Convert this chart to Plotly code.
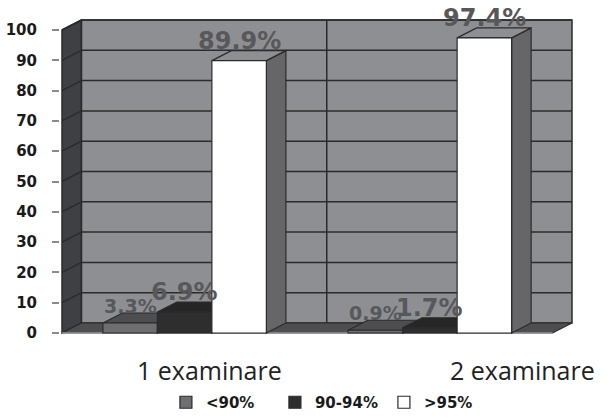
import plotly.graph_objects as go

# ---- data -------------------------------------------------------------
categories = ["1 examinare", "2 examinare"]
series_names = ["<90%", "90-94%", ">95%"]
below_90 = [3.3, 0.9]
between_90_94 = [6.9, 1.7]
above_95 = [89.9, 97.4]
y_tick_values = [0, 10, 20, 30, 40, 50, 60, 70, 80, 90, 100]

# ---- styling ----------------------------------------------------------
# (front face, top face, side face, value-label size)
bar_styles = [
    ("#6e6e70", "#4e4e50", "#555557", 19),
    ("#2e2e2e", "#262626", "#222222", 24),
    ("#ffffff", "#8e8f92", "#666668", 24),
]
EDGE = "#2b2b2b"
BACK_WALL = "#8e8f93"
SIDE_WALL = "#3f4043"
FLOOR = "#4e4e50"
LABEL_GREY = "#58585a"

W, H = 610, 419
front_left_px, back_right_px = 62, 572      # horizontal extent of the box
zero_px, hundred_px = 333, 30               # front plane: 0 and 100
depth_px_x, depth_px_y = 19.5, 10           # oblique depth offset in pixels

n_cat = len(categories)
x_lo, x_hi = -0.5, n_cat - 0.5
sx = (back_right_px - front_left_px - depth_px_x) / (x_hi - x_lo)
sy = (zero_px - hundred_px) / 100.0
DX = depth_px_x / sx
DY = depth_px_y / sy

PAD = 2  # px of slack so edge strokes are not clipped
y_top = max(y_tick_values)
x_range = [x_lo - PAD / sx, x_hi + DX + PAD / sx]
y_range = [-PAD / sy, y_top + DY + PAD / sy]
m_l = front_left_px - PAD
m_r = W - (back_right_px + PAD)
m_b = H - (zero_px + PAD)
m_t = H - m_b - (y_range[1] - y_range[0]) * sy

GROUP = 2 / 3
BW = GROUP / len(series_names)


def poly(points, fill, line=EDGE, width=1.2):
    path = "M " + " L ".join(f"{x},{y}" for x, y in points) + " Z"
    return dict(type="path", path=path, xref="x", yref="y",
                fillcolor=fill, line=dict(color=line, width=width),
                layer="below")


def seg(x0, y0, x1, y1, color=EDGE, width=1.5):
    return dict(type="line", x0=x0, y0=y0, x1=x1, y1=y1, xref="x", yref="y",
                line=dict(color=color, width=width), layer="below")


shapes = []
# side wall, back wall, floor
shapes.append(poly([(x_lo, 0), (x_lo, y_top), (x_lo + DX, y_top + DY),
                    (x_lo + DX, DY)], SIDE_WALL, width=1.5))
shapes.append(poly([(x_lo + DX, DY), (x_lo + DX, y_top + DY),
                    (x_hi + DX, y_top + DY), (x_hi + DX, DY)], BACK_WALL,
                   width=1.5))
shapes.append(poly([(x_lo, 0), (x_hi, 0), (x_hi + DX, DY), (x_lo + DX, DY)],
                   FLOOR, width=1.2))
# gridlines on back wall and their continuation across the side wall
for v in y_tick_values[1:]:
    shapes.append(seg(x_lo + DX, v + DY, x_hi + DX, v + DY))
    shapes.append(seg(x_lo, v, x_lo + DX, v + DY))
# category divider on the back wall
for i in range(n_cat - 1):
    xb = i + 0.5 + DX
    shapes.append(seg(xb, DY, xb, y_top + DY))
# front floor edge
shapes.append(seg(x_lo, 0, x_hi, 0, color="#9a9a9a", width=1.5))

series_values = [below_90, between_90_94, above_95]
annotations = []
fig = go.Figure()

# depth faces drawn left-to-right so nearer neighbours overlap correctly
for i in range(n_cat):
    for k, vals in enumerate(series_values):
        front, top, side, _ = bar_styles[k]
        xc = i + (k - (len(series_values) - 1) / 2) * BW
        xl, xr = xc - BW / 2, xc + BW / 2
        v = vals[i]
        shapes.append(poly([(xr, 0), (xr, v), (xr + DX, v + DY),
                            (xr + DX, DY)], side))
        shapes.append(poly([(xl, v), (xr, v), (xr + DX, v + DY),
                            (xl + DX, v + DY)], top))

for k, (name, vals) in enumerate(zip(series_names, series_values)):
    front, top, side, lsize = bar_styles[k]
    xs = [i + (k - (len(series_values) - 1) / 2) * BW for i in range(n_cat)]
    fig.add_trace(go.Bar(
        x=xs, y=vals, width=BW, name=name,
        marker=dict(color=front, line=dict(color=EDGE, width=1.2)),
        hoverinfo="skip",
    ))
    for xv, v in zip(xs, vals):
        annotations.append(dict(
            x=xv, y=v + DY, xref="x", yref="y", text=f"{v:.1f}%",
            showarrow=False, xanchor="center", yanchor="bottom", yshift=-6,
            font=dict(family="DejaVu Sans", size=lsize, color=LABEL_GREY,
                      weight="bold"),
        ))

# category labels beneath the floor
cat_shift = [25, 93]
for i, (cat, xs_) in enumerate(zip(categories, cat_shift)):
    annotations.append(dict(
        x=i, y=0, xref="x", yref="y", text=cat, showarrow=False,
        xanchor="center", yanchor="top", xshift=xs_, yshift=-18,
        font=dict(family="Open Sans", size=25, color="#222222"),
    ))

fig.update_layout(
    width=W, height=H,
    margin=dict(l=m_l, r=m_r, t=m_t, b=m_b, pad=0, autoexpand=False),
    paper_bgcolor="white", plot_bgcolor="white",
    barmode="overlay",
    shapes=shapes, annotations=annotations,
    showlegend=True,
    legend=dict(orientation="h", x=0.272, xanchor="left",
                xref="container", yref="container", y=0.0,
                yanchor="bottom", entrywidth=64,
                font=dict(family="DejaVu Sans", size=15, color="#1a1a1a",
                          weight="bold"),
                itemwidth=30),
    xaxis=dict(range=x_range, showgrid=False, zeroline=False,
               showticklabels=False, ticks="", fixedrange=True),
    yaxis=dict(range=y_range, tickvals=y_tick_values, showgrid=False,
               zeroline=False, ticks="outside", ticklen=7,
               tickcolor="#8a8a8a", tickwidth=1.5, ticklabelstandoff=12,
               tickfont=dict(family="DejaVu Sans", size=15, color="#1a1a1a",
                             weight="bold"),
               fixedrange=True),
)

fig.write_html("out.html")
